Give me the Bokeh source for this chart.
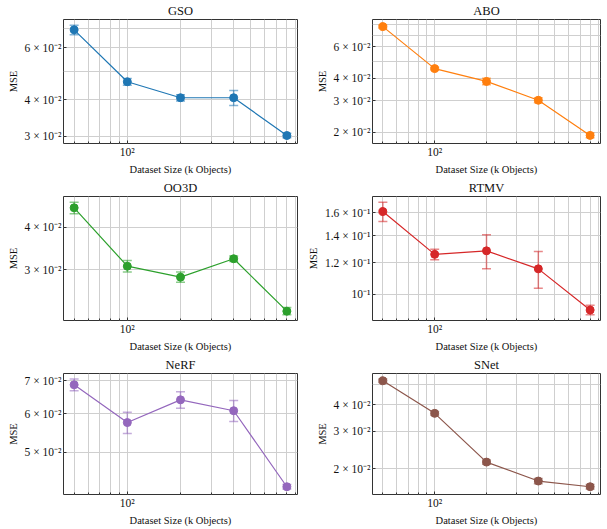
import math
from bokeh.plotting import figure
from bokeh.layouts import gridplot
from bokeh.models import (ColumnDataSource, Range1d, FixedTicker, Whisker, TeeHead)
from bokeh.embed import file_html
from bokeh.resources import INLINE

# ---------------- data ----------------
sizes = [50, 100, 200, 400, 800]

gso_mse = [0.0691, 0.0460, 0.0406, 0.0406, 0.0302]
gso_err = [0.0026, 0.0012, 0.0010, 0.0024, 0.00055]
abo_mse = [0.0780, 0.0454, 0.0385, 0.0302, 0.0192]
abo_err = [0.0015, 0.0008, 0.0016, 0.0010, 0.0006]
oo3d_mse = [0.0457, 0.0307, 0.0285, 0.0323, 0.0226]
oo3d_err = [0.0018, 0.0012, 0.0010, 0.0006, 0.00056]
rtmv_mse = [0.1612, 0.1259, 0.1285, 0.1158, 0.0913]
rtmv_err = [0.0090, 0.0038, 0.0126, 0.0122, 0.0025]
nerf_mse = [0.0687, 0.0575, 0.0640, 0.0608, 0.0425]
nerf_err = [0.0019, 0.0029, 0.0025, 0.0030, 0.00045]
snet_mse = [0.0520, 0.0365, 0.0215, 0.0175, 0.01645]
snet_err = [0.0010, 0.0007, 0.0005, 0.0005, 0.0004]

x_tick_values = [100]
x_tick_labels = ["10²"]
x_minor_ticks = [50, 60, 70, 80, 90, 200, 300, 400, 500, 600, 700, 800, 900]

gso_yticks = [0.03, 0.04, 0.06]
gso_ylabels = ["3 × 10⁻²", "4 × 10⁻²", "6 × 10⁻²"]
gso_yminor = [0.05, 0.07]
abo_yticks = [0.02, 0.03, 0.04, 0.06]
abo_ylabels = ["2 × 10⁻²", "3 × 10⁻²", "4 × 10⁻²", "6 × 10⁻²"]
abo_yminor = [0.05, 0.07, 0.08]
oo3d_yticks = [0.03, 0.04]
oo3d_ylabels = ["3 × 10⁻²", "4 × 10⁻²"]
oo3d_yminor = []
rtmv_yticks = [0.1, 0.12, 0.14, 0.16]
rtmv_ylabels = ["10⁻¹", "1.2 × 10⁻¹", "1.4 × 10⁻¹", "1.6 × 10⁻¹"]
rtmv_yminor = []
nerf_yticks = [0.05, 0.06, 0.07]
nerf_ylabels = ["5 × 10⁻²", "6 × 10⁻²", "7 × 10⁻²"]
nerf_yminor = []
snet_yticks = [0.02, 0.03, 0.04]
snet_ylabels = ["2 × 10⁻²", "3 × 10⁻²", "4 × 10⁻²"]
snet_yminor = [0.05]

colors = ["#1f77b4", "#ff7f0e", "#2ca02c", "#d62728", "#9467bd", "#8c564b"]

FONT = "Liberation Serif"
GRID = "#cfcfcf"
TEXT = "#111111"


def log_range(lo, hi, frac=0.05):
    a, b = math.log10(lo), math.log10(hi)
    m = frac * (b - a)
    return Range1d(10 ** (a - m), 10 ** (b + m))


def make_panel(title, mse, err, color, yticks, ylabels, yminor,
               width, height, bl, br, bt, bb):
    lower = [v - e for v, e in zip(mse, err)]
    upper = [v + e for v, e in zip(mse, err)]
    p = figure(width=width, height=height, x_axis_type="log", y_axis_type="log",
               x_range=log_range(min(sizes), max(sizes)),
               y_range=log_range(min(lower), max(upper)),
               output_backend="svg", toolbar_location=None, title=title,
               min_border_left=bl, min_border_right=br,
               min_border_top=bt, min_border_bottom=bb)
    p.title.text_font = FONT
    p.title.text_font_style = "normal"
    p.title.text_font_size = "12.5px"
    p.title.text_color = TEXT
    p.title.align = "center"
    p.title.standoff = 3
    p.title.offset = 0

    xt = FixedTicker(ticks=x_tick_values, minor_ticks=x_minor_ticks)
    yt = FixedTicker(ticks=yticks, minor_ticks=yminor)
    p.xaxis.ticker = xt
    p.yaxis.ticker = yt
    p.xgrid.ticker = xt
    p.ygrid.ticker = yt
    p.xaxis.major_label_overrides = dict(zip(x_tick_values, x_tick_labels))
    p.yaxis.major_label_overrides = dict(zip(yticks, ylabels))

    for g in (p.xgrid, p.ygrid):
        g.grid_line_color = GRID
        g.grid_line_width = 1
        g.minor_grid_line_color = GRID
        g.minor_grid_line_width = 1

    p.xaxis.axis_label = "Dataset Size (k Objects)"
    p.yaxis.axis_label = "MSE"
    for ax in (p.xaxis, p.yaxis):
        ax.axis_label_text_font = FONT
        ax.axis_label_text_font_style = "normal"
        ax.axis_label_text_font_size = "10.5px"
        ax.axis_label_text_color = TEXT
        ax.major_label_text_font = FONT
        ax.major_label_text_font_size = "11.5px"
        ax.major_label_text_color = TEXT
        ax.axis_line_color = None
        ax.major_tick_in = 3
        ax.major_tick_out = 0
        ax.minor_tick_in = 2
        ax.minor_tick_out = 0
        ax.major_tick_line_color = "#333333"
        ax.minor_tick_line_color = "#333333"
        ax.major_label_standoff = 2
        ax.axis_label_standoff = 3
    p.yaxis.minor_tick_line_color = None

    p.outline_line_color = "#333333"
    p.outline_line_width = 1
    p.outline_line_alpha = 1

    src = ColumnDataSource(dict(x=sizes, y=mse, lower=lower, upper=upper))
    head = dict(size=9, line_color=color, line_alpha=0.55, line_width=1.5)
    w = Whisker(base="x", upper="upper", lower="lower", source=src,
                dimension="height", line_color=color, line_alpha=0.55,
                line_width=1.5,
                upper_head=TeeHead(**head), lower_head=TeeHead(**head))
    p.add_layout(w)
    p.line("x", "y", source=src, line_color=color, line_width=1.2)
    p.scatter("x", "y", source=src, size=8, fill_color=color, line_color=color)
    return p


LW, RW = 304, 299
H12, H3 = 177, 174

p1 = make_panel("GSO", gso_mse, gso_err, colors[0], gso_yticks, gso_ylabels, gso_yminor,
                LW, H12, 63, 7, 18, 30)
p2 = make_panel("ABO", abo_mse, abo_err, colors[1], abo_yticks, abo_ylabels, abo_yminor,
                RW, H12, 62, 3, 18, 30)
p3 = make_panel("OO3D", oo3d_mse, oo3d_err, colors[2], oo3d_yticks, oo3d_ylabels, oo3d_yminor,
                LW, H12, 63, 7, 18, 30)
p4 = make_panel("RTMV", rtmv_mse, rtmv_err, colors[3], rtmv_yticks, rtmv_ylabels, rtmv_yminor,
                RW, H12, 62, 3, 18, 30)
p5 = make_panel("NeRF", nerf_mse, nerf_err, colors[4], nerf_yticks, nerf_ylabels, nerf_yminor,
                LW, H3, 63, 7, 18, 27)
p6 = make_panel("SNet", snet_mse, snet_err, colors[5], snet_yticks, snet_ylabels, snet_yminor,
                RW, H3, 62, 3, 18, 27)

grid = gridplot([[p1, p2], [p3, p4], [p5, p6]], toolbar_location=None)

open("out.html", "w").write(file_html(grid, INLINE))
